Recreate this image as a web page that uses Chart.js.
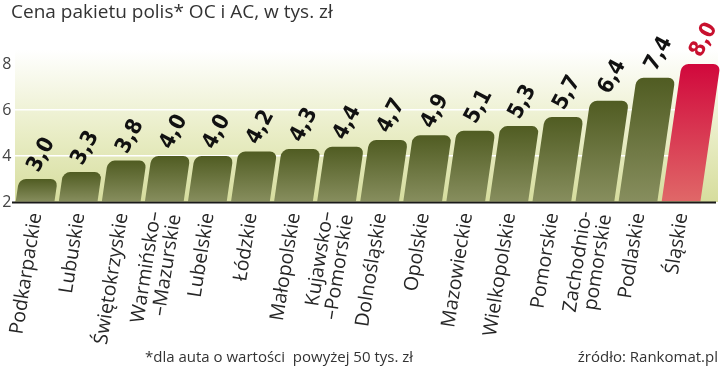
<!DOCTYPE html>
<html><head><meta charset="utf-8">
<script src="https://cdn.jsdelivr.net/npm/chart.js@4.4.1/dist/chart.umd.min.js"></script>
<style>
html,body{margin:0;padding:0;background:#fff;}
#wrap{position:relative;width:720px;height:372px;overflow:hidden;}
canvas{position:absolute;left:0;top:0;}
.t{position:absolute;font-family:'Open Sans',sans-serif;color:#333;white-space:nowrap;}
</style></head><body>
<div id="wrap">
<canvas id="c" width="720" height="372"></canvas>
<div class="t" style="left:11px;top:-2px;font-size:19px;">Cena pakietu polis* OC i AC, w tys. zł</div>
<div class="t" style="left:145px;top:346px;font-size:15px;">*dla auta o wartości&nbsp; powyżej 50 tys. zł</div>
<div class="t" style="right:2px;top:346px;font-size:15px;">źródło: Rankomat.pl</div>
</div>
<script>
const categories = ['Podkarpackie', 'Lubuskie', 'Świętokrzyskie', ['Warmińsko–', '–Mazurskie'], 'Lubelskie', 'Łódzkie', 'Małopolskie', ['Kujawsko–', '–Pomorskie'], 'Dolnośląskie', 'Opolskie', 'Mazowieckie', 'Wielkopolskie', 'Pomorskie', ['Zachodnio-', 'pomorskie'], 'Podlaskie', 'Śląskie'];
const values = [3.0, 3.3, 3.8, 4.0, 4.0, 4.2, 4.3, 4.4, 4.7, 4.9, 5.1, 5.3, 5.7, 6.4, 7.4, 8.0];
const highlighted = ['Śląskie'];
const yTicks = [2, 4, 6, 8];

const K = 0.145; // slant of bars
const isHi = i => highlighted.includes(categories[i]);

const bgPlugin = {
  id: 'bg',
  beforeDraw(chart) {
    const ctx = chart.ctx, y = chart.scales.y;
    const yb = y.getPixelForValue(yTicks[0]);
    const g = ctx.createLinearGradient(0, yb, 0, 50);
    g.addColorStop(0, '#d6dd9d');
    g.addColorStop(0.45, '#e9edc6');
    g.addColorStop(1, '#ffffff');
    ctx.save();
    ctx.fillStyle = g;
    ctx.fillRect(15, 50, 703, yb - 50);
    ctx.restore();
  }
};
const skewPlugin = {
  id: 'skew',
  beforeDatasetsDraw(chart) {
    const base = chart.scales.y.getPixelForValue(yTicks[0]);
    chart.ctx.save();
    chart.ctx.transform(1, 0, -K, 1, K * base, 0);
  },
  afterDatasetsDraw(chart) { chart.ctx.restore(); }
};
const labelPlugin = {
  id: 'labels',
  afterDraw(chart) {
    const ctx = chart.ctx;
    const base = chart.scales.y.getPixelForValue(yTicks[0]);
    ctx.save();
    ctx.strokeStyle = '#1a1a1a';
    ctx.lineWidth = 2;
    ctx.beginPath();
    ctx.moveTo(12, base + 0.5);
    ctx.lineTo(716, base + 0.5);
    ctx.stroke();
    const meta = chart.getDatasetMeta(0);
    meta.data.forEach((el, i) => {
      const tx = el.x + K * (base - el.y);
      ctx.save();
      ctx.translate(tx + 3, el.y - 24);
      ctx.rotate(-62 * Math.PI / 180);
      ctx.font = "bold 22px 'DejaVu Sans', sans-serif";
      try { ctx.fontStretch = 'condensed'; } catch (e) {}
      ctx.fillStyle = isHi(i) ? '#c8102e' : '#111111';
      ctx.textAlign = 'center';
      ctx.textBaseline = 'middle';
      ctx.fillText(values[i].toFixed(1).replace('.', ','), 0, 0);
      ctx.restore();
    });
    // category labels
    const xs = chart.scales.x;
    categories.forEach((lab, i) => {
      const lines = Array.isArray(lab) ? lab : [lab];
      const x = xs.getPixelForTick(i);
      ctx.save();
      ctx.translate(x + 1, base + 11);
      ctx.rotate(-81 * Math.PI / 180);
      ctx.font = "19.5px 'Open Sans', sans-serif";
      ctx.fillStyle = '#262626';
      ctx.textAlign = 'right';
      ctx.textBaseline = 'middle';
      const lh = 20;
      lines.forEach((ln, j) => ctx.fillText(ln, 0, (j - (lines.length - 1) / 2) * lh));
      ctx.restore();
    });
    ctx.restore();
  }
};

new Chart(document.getElementById('c'), {
  type: 'bar',
  data: {
    labels: categories,
    datasets: [{
      data: values,
      base: yTicks[0],
      clip: false,
      barPercentage: 0.9,
      categoryPercentage: 1.0,
      borderRadius: { topLeft: 7, topRight: 7, bottomLeft: 0, bottomRight: 0 },
      borderSkipped: 'bottom',
      backgroundColor(c) {
        const chart = c.chart;
        if (!chart.chartArea || c.dataIndex === undefined) return '#5b6530';
        const i = c.dataIndex;
        const y = chart.scales.y;
        const yt = y.getPixelForValue(values[i]);
        const yb = y.getPixelForValue(yTicks[0]);
        const g = chart.ctx.createLinearGradient(0, yt, 0, yb);
        if (isHi(i)) {
          g.addColorStop(0, '#d1083c');
          g.addColorStop(1, '#e06868');
        } else {
          g.addColorStop(0, '#505c22');
          g.addColorStop(1, '#878e5e');
        }
        return g;
      }
    }]
  },
  options: {
    responsive: false,
    animation: false,
    layout: { padding: { top: 64, right: 17.5, left: 0, bottom: 0 } },
    plugins: { legend: { display: false }, tooltip: { enabled: false }, title: { display: false } },
    scales: {
      x: {
        grid: { display: false, drawTicks: false },
        border: { display: false },
        afterFit(s) { s.height = 170; },
        ticks: { display: false, autoSkip: false }
      },
      y: {
        min: 2, max: 8,
        z: 1,
        afterFit(s) { s.width = 13.5; },
        afterBuildTicks(s) { s.ticks = yTicks.map(v => ({ value: v })); },
        border: { display: false },
        grid: {
          drawTicks: false,
          lineWidth: 1.5,
          color: c => (c.tick && (c.tick.value === 4 || c.tick.value === 6)) ? '#ffffff' : 'rgba(0,0,0,0)'
        },
        ticks: {
          padding: 2,
          color: '#444',
          font: { family: "'Open Sans', sans-serif", size: 16 }
        }
      }
    }
  },
  plugins: [bgPlugin, skewPlugin, labelPlugin]
});
</script>
</body></html>
